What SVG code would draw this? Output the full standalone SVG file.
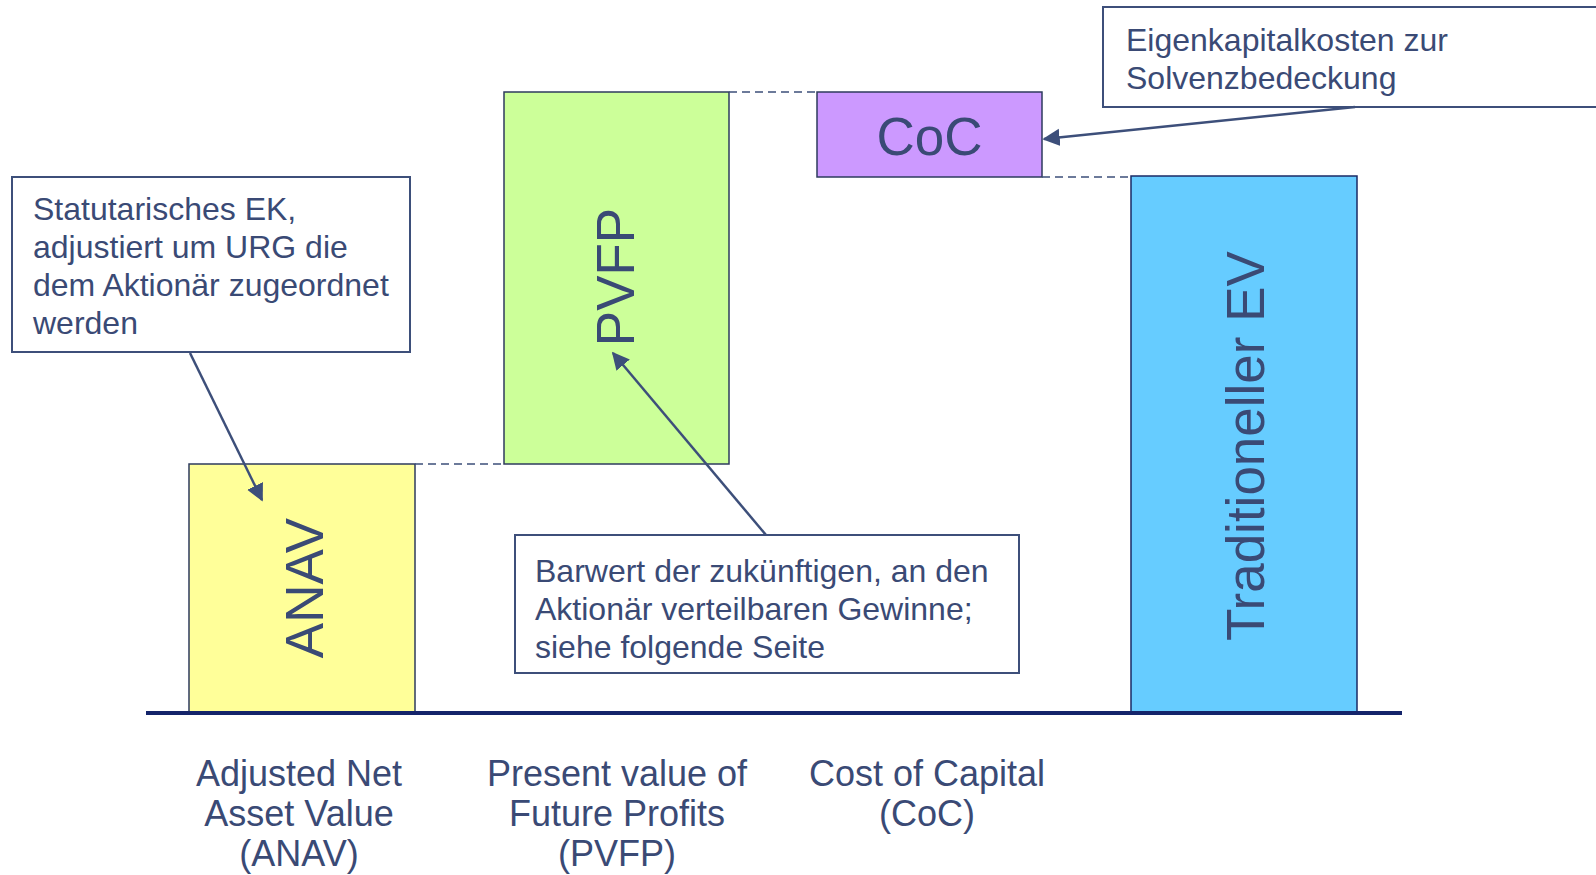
<svg xmlns="http://www.w3.org/2000/svg" width="1596" height="875" viewBox="0 0 1596 875">
<style>
.t{font-family:"Liberation Sans",Arial,sans-serif;fill:#3a4a75}
.c{font-size:32px}
.big{font-size:53px}
.lab{font-size:36px;text-anchor:middle}
.bar{stroke:#2e3b5e;stroke-width:1.5}
.call{fill:#ffffff;stroke:#3d4f7a;stroke-width:2}
.dash{stroke:#3d4f7a;stroke-width:1.5;stroke-dasharray:8 5;fill:none}
.arr{stroke:#3d4f7a;stroke-width:2.5;fill:none;marker-end:url(#ah)}
</style>
<defs>
<marker id="ah" viewBox="0 0 10 10" refX="9" refY="5" markerWidth="7" markerHeight="10" markerUnits="strokeWidth" orient="auto">
<path d="M0,0 L10,5 L0,10 z" fill="#3d4f7a"/>
</marker>
</defs>
<rect width="1596" height="875" fill="#ffffff"/>
<g id="anav">
<rect class="bar" x="189" y="464" width="226" height="248" fill="#ffff99"/>
<text class="t big" transform="translate(323,588) rotate(-90)" text-anchor="middle">ANAV</text>
</g>
<g id="pvfp">
<rect class="bar" x="504" y="92" width="225" height="372" fill="#ccff99"/>
<text class="t big" transform="translate(634,277) rotate(-90)" text-anchor="middle">PVFP</text>
</g>
<g id="coc">
<rect class="bar" x="817" y="92" width="225" height="85" fill="#cc99ff"/>
<text class="t big" x="929.5" y="155" text-anchor="middle">CoC</text>
</g>
<g id="ev">
<rect x="1131" y="176" width="226" height="536" fill="#66ccff" stroke="#1a2a66" stroke-width="1.5"/>
<text class="t big" transform="translate(1264,446) rotate(-90)" text-anchor="middle">Traditioneller EV</text>
</g>
<g id="axis">
<line x1="146" y1="713" x2="1402" y2="713" stroke="#14246a" stroke-width="4"/>
</g>
<g id="callout-anav">
<rect class="call" x="12" y="177" width="398" height="175"/>
<text class="t c" x="33" y="220">Statutarisches EK,</text>
<text class="t c" x="33" y="258">adjustiert um URG die</text>
<text class="t c" x="33" y="296">dem Aktionär zugeordnet</text>
<text class="t c" x="33" y="334">werden</text>
</g>
<g id="callout-pvfp">
<rect class="call" x="515" y="535" width="504" height="138"/>
<text class="t c" x="535" y="582">Barwert der zukünftigen, an den</text>
<text class="t c" x="535" y="620">Aktionär verteilbaren Gewinne;</text>
<text class="t c" x="535" y="658">siehe folgende Seite</text>
</g>
<g id="callout-coc">
<rect class="call" x="1103" y="7" width="500" height="100"/>
<text class="t c" x="1126" y="51">Eigenkapitalkosten zur</text>
<text class="t c" x="1126" y="89">Solvenzbedeckung</text>
</g>
<g id="connectors">
<line class="dash" x1="415" y1="464" x2="504" y2="464"/>
<line class="dash" x1="729" y1="92" x2="817" y2="92"/>
<line class="dash" x1="1042" y1="177" x2="1131" y2="177"/>
<line class="arr" x1="190" y1="353" x2="262" y2="500"/>
<line class="arr" x1="766" y1="535" x2="613" y2="353"/>
<line class="arr" x1="1355" y1="107" x2="1044" y2="139"/>
</g>
<g id="labels">
<text class="t lab" x="299" y="786">Adjusted Net</text>
<text class="t lab" x="299" y="826">Asset Value</text>
<text class="t lab" x="299" y="866">(ANAV)</text>
<text class="t lab" x="617" y="786">Present value of</text>
<text class="t lab" x="617" y="826">Future Profits</text>
<text class="t lab" x="617" y="866">(PVFP)</text>
<text class="t lab" x="927" y="786">Cost of Capital</text>
<text class="t lab" x="927" y="826">(CoC)</text>
</g>
</svg>
